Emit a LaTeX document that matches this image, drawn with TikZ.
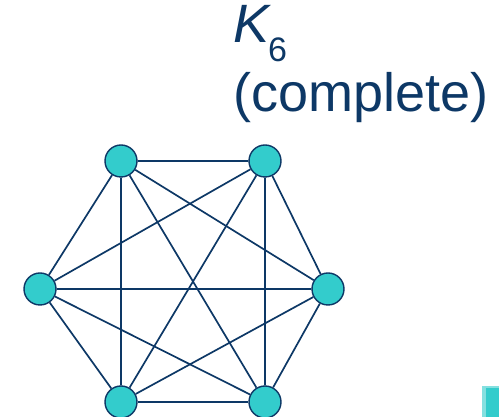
\documentclass[tikz,border=0pt]{standalone}
\usepackage{fontspec}
\setmainfont{Liberation Sans}
\definecolor{navy}{HTML}{0D3866}
\definecolor{tealfill}{HTML}{33CCCC}
\begin{document}
\begin{tikzpicture}[x=1pt,y=1pt,
  vert/.style={circle,draw=navy,line width=1.4pt,fill=tealfill,minimum size=32pt,inner sep=0pt},
  edge/.style={navy,line width=1.7pt},
  title/.style={anchor=base west,inner sep=0pt,text=navy}]
\useasboundingbox (0,0) rectangle (499,417);
% Title
\node[title,font=\fontsize{54}{54}\selectfont\itshape] (k) at (233,374) {K};
\node[title,font=\fontsize{34}{34}\selectfont] (six) at (268,355) {6};
\node[title,font=\fontsize{54}{54}\selectfont] (compl) at (233,305) {(complete)};
% Vertices
\node[vert] (tl) at (121,256) {};
\node[vert] (tr) at (265,256) {};
\node[vert] (l) at (40,128) {};
\node[vert] (r) at (328,128) {};
\node[vert] (bl) at (121,15) {};
\node[vert] (br) at (265,15) {};
% Edges
\draw[edge] (tl) -- (tr) (tl) -- (l) (tl) -- (r) (tl) -- (bl) (tl) -- (br);
\draw[edge] (tr) -- (l) (tr) -- (r) (tr) -- (bl) (tr) -- (br);
\draw[edge] (l) -- (r) (l) -- (bl) (l) -- (br);
\draw[edge] (r) -- (bl) (r) -- (br);
\draw[edge] (bl) -- (br);
% corner of the next slide element
\fill[tealfill!60!white] (482,0) rectangle (499,31);
\fill[tealfill] (486,0) rectangle (499,29);
\end{tikzpicture}
\end{document}
